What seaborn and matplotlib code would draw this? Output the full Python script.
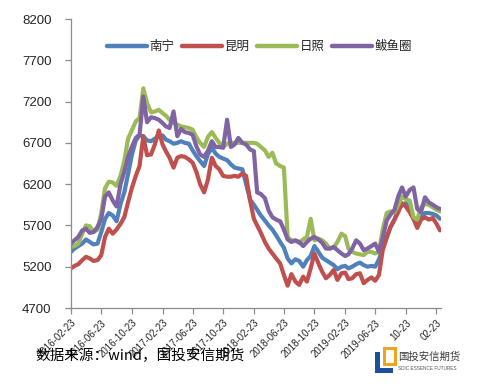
import numpy as np
import pandas as pd
import matplotlib
matplotlib.use("Agg")
import matplotlib.pyplot as plt
import matplotlib.patches as mpatches
from matplotlib.lines import Line2D
import seaborn as sns

# ---------------- data ----------------
cities = ["南宁", "昆明", "日照", "鲅鱼圈"]
colors = ["#4F81BD", "#C0504D", "#9BBB59", "#8064A2"]

# semi-monthly observation dates (8th and 23rd), 2016-02-23 .. 2020-03-08
dates = []
for yr in range(2016, 2021):
    for mo in range(1, 13):
        for dy in (8, 23):
            d = pd.Timestamp(yr, mo, dy)
            if pd.Timestamp("2016-02-23") <= d <= pd.Timestamp("2020-03-08"):
                dates.append(d)

nanning = [5380, 5420, 5450, 5480, 5530, 5500, 5470, 5480, 5620, 5780,
           5850, 5820, 5750, 5960, 6100, 6320, 6550, 6730, 6790, 6780,
           6730, 6720, 6750, 6780, 6790, 6740, 6720, 6690, 6700, 6720,
           6700, 6690, 6610, 6540, 6480, 6420, 6560, 6640, 6570, 6530,
           6510, 6490, 6440, 6400, 6390, 6380, 6200, 6010, 5950, 5890,
           5820, 5760, 5700, 5650, 5580, 5500, 5430, 5300, 5240, 5290,
           5270, 5200, 5280, 5330, 5450, 5380, 5310, 5280, 5250, 5220,
           5170, 5200, 5210, 5180, 5200, 5230, 5250, 5220, 5200, 5210,
           5200, 5290, 5420, 5560, 5680, 5770, 5900, 5940, 5970, 5900,
           5780, 5740, 5800, 5850, 5850, 5840, 5820, 5780]

kunming = [5180, 5210, 5230, 5280, 5320, 5300, 5270, 5280, 5340, 5560,
           5660, 5600, 5650, 5720, 5800, 5980, 6150, 6300, 6420, 6780,
           6550, 6560, 6680, 6850, 6680, 6600, 6520, 6400, 6520, 6540,
           6530, 6500, 6460, 6350, 6200, 6100, 6250, 6520, 6420, 6380,
           6300, 6290, 6290, 6300, 6290, 6330, 6300, 6000, 5780, 5700,
           5610, 5500, 5420, 5360, 5300, 5240, 5100, 4970, 5110, 5020,
           4980, 5080, 5020, 5180, 5360, 5240, 5140, 5060, 5100, 5160,
           5040, 5120, 5130, 5050, 5060, 5110, 5120, 5000, 5040, 5070,
           5030, 5100, 5400, 5550, 5680, 5770, 5860, 5970, 5930, 5860,
           5780, 5670, 5770, 5800, 5770, 5790, 5720, 5640]

rizhao = [5440, 5450, 5480, 5600, 5700, 5690, 5620, 5650, 5850, 6150,
          6230, 6220, 6180, 6300, 6480, 6750, 6850, 6960, 7000, 7360,
          7180, 7070, 7080, 7100, 7060, 7030, 6980, 6940, 6920, 6900,
          6890, 6880, 6860, 6770, 6700, 6650, 6770, 6830, 6760, 6700,
          6650, 6690, 6700, 6700, 6700, 6700, 6700, 6700, 6700, 6690,
          6650, 6610, 6530, 6580, 6450, 6420, 6400, 5560, 5520, 5510,
          5490, 5530, 5560, 5780, 5520, 5540, 5520, 5480, 5420, 5430,
          5500, 5600, 5570, 5420, 5380, 5360, 5350, 5340, 5380, 5380,
          5360, 5380, 5650, 5850, 5870, 5860, 5950, 6050, 6020, 6000,
          5800, 5770, 5920, 5960, 5950, 5920, 5890, 5870]

bayuquan = [5480, 5520, 5560, 5640, 5660, 5610, 5620, 5680, 5780, 6050,
            6100, 6000, 5930, 6200, 6350, 6530, 6650, 6760, 6800, 7260,
            6950, 7010, 7000, 6980, 6940, 6900, 6880, 7080, 6780, 6870,
            6830, 6820, 6800, 6660, 6560, 6530, 6600, 6720, 6650, 6650,
            6640, 6980, 6650, 6680, 6760, 6700, 6680, 6620, 6600, 6100,
            6080, 6030, 5880, 5800, 5770, 5750, 5650, 5530, 5500, 5520,
            5500, 5450, 5500, 5540, 5560, 5530, 5490, 5420, 5420, 5440,
            5400, 5360, 5330, 5350, 5420, 5520, 5480, 5400, 5420, 5450,
            5480, 5380, 5550, 5760, 5830, 5890, 6050, 6160, 6050, 6130,
            6160, 5900, 5860, 6040, 5980, 5950, 5920, 5900]

tick_dates = ["2016-02-23", "2016-06-23", "2016-10-23", "2017-02-23",
              "2017-06-23", "2017-10-23", "2018-02-23", "2018-06-23",
              "2018-10-23", "2019-02-23", "2019-06-23", "2019-10-23",
              "2020-02-23"]
tick_labels = ["2016-02-23", "2016-06-23", "2016-10-23", "2017-02-23",
               "2017-06-23", "2017-10-23", "2018-02-23", "2018-06-23",
               "2018-10-23", "2019-02-23", "2019-06-23", "10-23", "02-23"]
y_ticks = [4700, 5200, 5700, 6200, 6700, 7200, 7700, 8200]

series = [nanning, kunming, rizhao, bayuquan]
df = pd.concat(
    [pd.DataFrame({"date": dates, "value": s, "city": c}) for c, s in zip(cities, series)],
    ignore_index=True)

# ---------------- plot ----------------
sns.set_style("white")
plt.rcParams["font.family"] = ["Liberation Sans", "Noto Sans CJK SC", "DejaVu Sans"]

fig = plt.figure(figsize=(4.9, 3.91), dpi=100)
ax = fig.add_axes([71 / 490, 1 - 308 / 391, 370 / 490, 289 / 391])

sns.lineplot(data=df, x="date", y="value", hue="city", hue_order=cities,
             palette=colors, linewidth=3.0, legend=False, ax=ax)

ax.set_xlim(pd.Timestamp("2016-02-23"), pd.Timestamp("2020-03-12"))
ax.set_ylim(4700, 8200)
ax.set_yticks(y_ticks)
ax.set_yticklabels([str(v) for v in y_ticks], fontsize=9.5)
ax.set_xticks(pd.to_datetime(tick_dates))
ax.set_xticklabels(tick_labels, rotation=45, ha="right",
                   rotation_mode="anchor", fontsize=7)
ax.set_xlabel("")
ax.set_ylabel("")

for side in ["top", "right"]:
    ax.spines[side].set_visible(False)
for side in ["left", "bottom"]:
    ax.spines[side].set_color("#8C8C8C")
    ax.spines[side].set_linewidth(0.9)
ax.tick_params(axis="both", which="major", direction="out", length=4,
               width=0.9, color="#8C8C8C", left=True, bottom=True)
ax.tick_params(axis="y", pad=10)
ax.tick_params(axis="x", pad=3)

handles = [Line2D([0], [0], color=c, lw=3.2) for c in colors]
leg = ax.legend(handles, cities, ncol=4, frameon=False,
                loc="center", bbox_to_anchor=(0.51, 0.905),
                handlelength=3.2, handletextpad=0.2, columnspacing=0.6,
                borderpad=0.2,
                prop={"family": ["Noto Sans CJK SC"], "size": 9})

# source note
fig.text(35 / 490, 1 - 356 / 391, "数据来源：wind，国投安信期货",
         fontsize=10.5, va="center", ha="left", color="black",
         family=["Noto Sans CJK SC", "DejaVu Sans"])

# logo
def frect(x, y, w, h, color):
    fig.add_artist(mpatches.Rectangle((x / 490, 1 - (y + h) / 391), w / 490, h / 391,
                                      transform=fig.transFigure, color=color, lw=0))

frect(383, 347, 14, 19, "#F2A31B")
frect(386, 350, 8, 13, "white")
frect(375, 352, 5, 21, "#1C4E9C")
frect(375, 368, 18, 5, "#1C4E9C")
fig.text(398 / 490, 1 - 357 / 391, "国投安信期货", fontsize=7.5, va="center",
         ha="left", color="#3A3A3A", family=["Noto Sans CJK SC"])
fig.text(398 / 490, 1 - 369 / 391, "SDIC ESSENCE FUTURES", fontsize=3.4,
         va="center", ha="left", color="#555555")

fig.savefig("out.png", dpi=100)
